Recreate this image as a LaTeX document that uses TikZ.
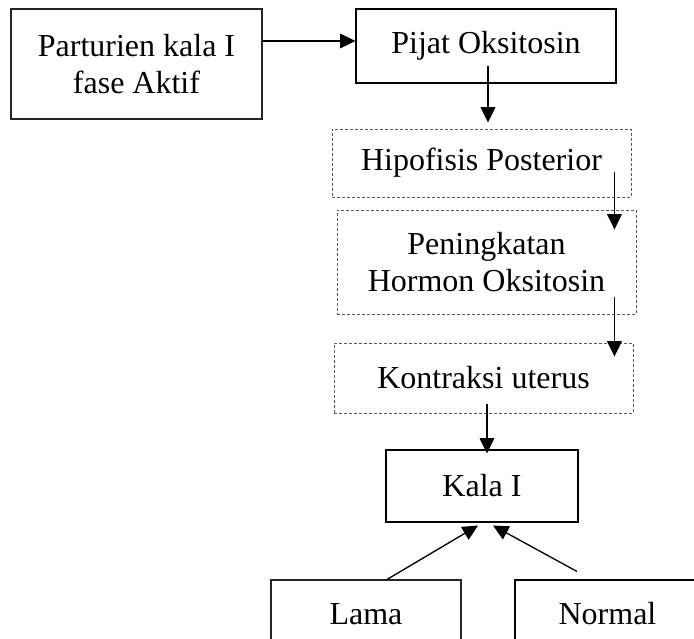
\documentclass[tikz,border=0pt]{standalone}
\usepackage{fontspec}
\setmainfont{Liberation Serif}
\usetikzlibrary{arrows.meta}

\begin{document}
\begin{tikzpicture}[x=0.75pt, y=0.75pt,
	every node/.style={font=\fontsize{24}{27.5}\selectfont, align=center, inner sep=0pt},
	solidbox/.style={draw=black!85, line width=0.8pt},
	dotbox/.style={draw=black!65, line width=0.7pt, dash pattern=on 2.25pt off 1.5pt},
	arrow/.style={line width=1pt, -{Triangle[length=11.5pt, width=11pt]}}]
	\useasboundingbox (0,0) rectangle (694,-639);
	\clip (0,0) rectangle (694,-639);
	\node (Parturien) at (136.5,-64) [solidbox, minimum width=188.25pt, minimum height=82.5pt] {Parturien kala I\\fase Aktif};
	\node (Pijat) at (486,-46) [solidbox, draw=black, minimum width=195pt, minimum height=55.5pt] {Pijat Oksitosin};
		\node (Hipofisis) at (481.5,-163) [dotbox, minimum width=224.25pt, minimum height=51pt] {Hipofisis Posterior};
		\node (Peningkatan) at (486.5,-262) [dotbox, minimum width=224.25pt, minimum height=78pt] {Peningkatan\\Hormon Oksitosin};
		\node (Kontraksi) at (483.5,-378) [dotbox, minimum width=224.25pt, minimum height=52.5pt] {Kontraksi uterus};
			\node (KalaI) at (482,-486) [solidbox, draw=black, minimum width=144pt, minimum height=54pt] {Kala I};
				\node (Lama) at (366,-614) [solidbox, minimum width=142.5pt, minimum height=51pt] {Lama};
				\node (Normal) at (607.5,-614) [solidbox, draw=black, minimum width=138.75pt, minimum height=51pt] {Normal};
	\draw[arrow] ([yshift=3.75pt]Parturien.east |- Pijat.west) -- ([yshift=3.75pt]Pijat.west);
	\draw[arrow, shorten <=-13.5pt, shorten >=4.5pt] ([xshift=1.5pt]Pijat.south) -- ([xshift=1.5pt]Pijat.south |- Hipofisis.north);
	\draw[arrow, shorten >=-15pt] ([xshift=-12.75pt, yshift=-6.75pt]Hipofisis.east) -- ([xshift=-12.75pt]Hipofisis.east |- Peningkatan.north);
	\draw[arrow, shorten <=-12.75pt, shorten >=-10.5pt] ([xshift=-16.5pt]Peningkatan.south east) -- ([xshift=-16.5pt]Peningkatan.south east |- Kontraksi.north);
	\draw[arrow, shorten <=-6.75pt, shorten >=-3pt] ([xshift=2.6pt]Kontraksi.south) -- ([xshift=2.6pt]Kontraksi.south |- KalaI.north);
	\draw[arrow] ([xshift=15.75pt]Lama.north) -- ([xshift=-3pt, yshift=-2.25pt]KalaI.south);
	\draw[arrow] ([xshift=-22.9pt, yshift=6pt]Normal.north) -- ([xshift=8.25pt, yshift=-2.25pt]KalaI.south);
\end{tikzpicture}
\end{document}
